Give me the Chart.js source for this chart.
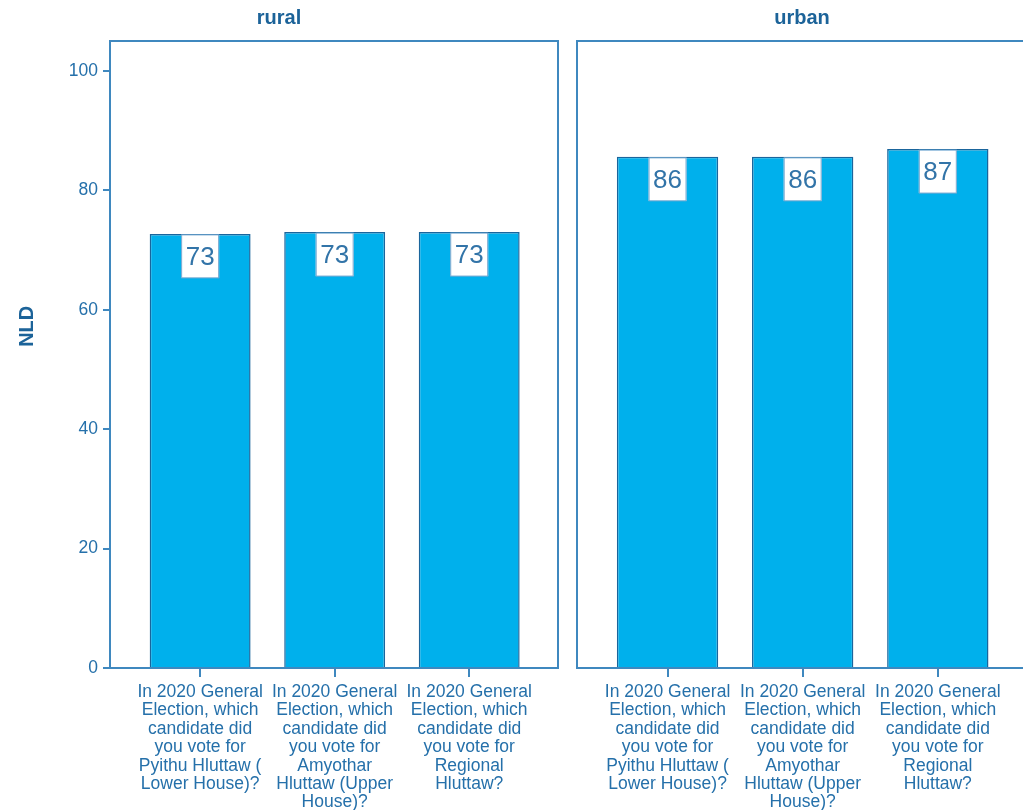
<!DOCTYPE html>
<html lang="en">
  <head>
    <meta charset="UTF-8" />
    <title>NLD vote share, rural vs urban</title>
    <script src="https://cdn.jsdelivr.net/npm/chart.js"></script>
    <style>
      html, body { margin: 0; padding: 0; background: #fff; overflow: hidden; }
      body { width: 1023px; height: 810px; position: relative; }
      .panel { position: absolute; top: 0; height: 810px; }
      #rural { left: 0; width: 568px; }
      #urban { left: 568px; width: 470px; }
    </style>
  </head>
  <body>
    <div class="panel" id="rural"><canvas id="ruralChart"></canvas></div>
    <div class="panel" id="urban"><canvas id="urbanChart"></canvas></div>
    <script>
      const questions = [
        ["In 2020 General", "Election, which", "candidate did", "you vote for", "Pyithu Hluttaw (", "Lower House)?"],
        ["In 2020 General", "Election, which", "candidate did", "you vote for", "Amyothar", "Hluttaw (Upper", "House)?"],
        ["In 2020 General", "Election, which", "candidate did", "you vote for", "Regional", "Hluttaw?"],
      ];
      const ruralValues = [72.7, 73.0, 73.0];
      const urbanValues = [85.6, 85.6, 86.9];
      const yTicks = [0, 20, 40, 60, 80, 100];

      const textColor = "#2570aa";
      const frameColor = "#3f88bf";
      const font = "'Liberation Sans', Arial, sans-serif";

      // white value box at the top of each bar, SPSS style
      const valueBoxes = {
        id: "valueBoxes",
        afterDatasetsDraw(chart) {
          const ctx = chart.ctx;
          const values = chart.data.datasets[0].data;
          chart.getDatasetMeta(0).data.forEach((bar, i) => {
            const w = 38, h = 43;
            const x = bar.x - w / 2, y = bar.y + 1;
            ctx.save();
            ctx.fillStyle = "#fff";
            ctx.fillRect(x, y, w, h);
            ctx.strokeStyle = "#6fa5cf";
            ctx.lineWidth = 1;
            ctx.strokeRect(x + 0.5, y, w - 1, h);
            ctx.fillStyle = "#3274a8";
            ctx.font = "26px " + font;
            ctx.textAlign = "center";
            ctx.textBaseline = "middle";
            ctx.fillText(Math.round(values[i].y), bar.x, y + h / 2 + 1);
            ctx.restore();
          });
        },
      };

      // panel frame around the plot area, plus the rotated y title
      const frame = {
        id: "frame",
        afterDraw(chart) {
          const { left, top, right, bottom } = chart.chartArea;
          const ctx = chart.ctx;
          ctx.save();
          ctx.strokeStyle = frameColor;
          ctx.lineWidth = 2;
          ctx.strokeRect(left, top, right - left, bottom - top);
          if (chart.options.scales.y.display) {
            // SPSS puts the axis title a little above the middle
            ctx.translate(27, top + (bottom - top) * 0.455);
            ctx.rotate(-Math.PI / 2);
            ctx.fillStyle = "#1c6399";
            ctx.font = "bold 20px " + font;
            ctx.textAlign = "center";
            ctx.textBaseline = "middle";
            ctx.fillText("NLD", 0, 0);
          }
          ctx.restore();
        },
      };

      function makePanel(id, title, values, showY, padding) {
        const ctx = document.getElementById(id).getContext("2d");
        return new Chart(ctx, {
          type: "bar",
          data: {
            datasets: [
              {
                data: values.map((v, i) => ({ x: i, y: v })),
                backgroundColor: "#00b0ec",
                borderColor: "#1a659c",
                borderWidth: 1.5,
                barPercentage: 0.75,
                categoryPercentage: 1,
              },
            ],
          },
          options: {
            responsive: true,
            maintainAspectRatio: false,
            animation: false,
            layout: { padding: padding },
            plugins: {
              legend: { display: false },
              tooltip: { enabled: false },
              title: {
                display: true,
                text: title,
                color: "#1c6399",
                font: { family: font, size: 20, weight: "bold" },
                padding: { top: 6, bottom: 11 },
              },
            },
            scales: {
              x: {
                type: "linear",
                offset: false,
                min: -0.67,
                max: 2.66,
                afterBuildTicks: (scale) => {
                  scale.ticks = questions.map((_, i) => ({ value: i }));
                },
                afterFit: (scale) => {
                  scale.height = 142;
                },
                grid: {
                  offset: false,
                  drawOnChartArea: false,
                  tickLength: 9,
                  color: frameColor,
                  lineWidth: 2,
                },
                border: { display: false },
                ticks: {
                  autoSkip: false,
                  maxRotation: 0,
                  padding: 6,
                  color: textColor,
                  font: { family: font, size: 17.5, lineHeight: 1.05 },
                  callback: (value) => questions[value],
                },
              },
              y: {
                display: showY,
                min: 0,
                max: 105,
                afterBuildTicks: (scale) => {
                  scale.ticks = yTicks.map((v) => ({ value: v }));
                },
                afterFit: (scale) => {
                  if (showY) scale.width = 110;
                },
                grid: {
                  drawOnChartArea: false,
                  tickLength: 7,
                  color: frameColor,
                  lineWidth: 2,
                },
                border: { display: false },
                ticks: {
                  padding: 5,
                  color: textColor,
                  font: { family: font, size: 17.5 },
                },
              },
            },
          },
          plugins: [valueBoxes, frame],
        });
      }

      makePanel("ruralChart", "rural", ruralValues, true, { left: 0, right: 10, top: 0, bottom: 0 });
      makePanel("urbanChart", "urban", urbanValues, false, { left: 9, right: 11, top: 0, bottom: 0 });
    </script>
  </body>
</html>
